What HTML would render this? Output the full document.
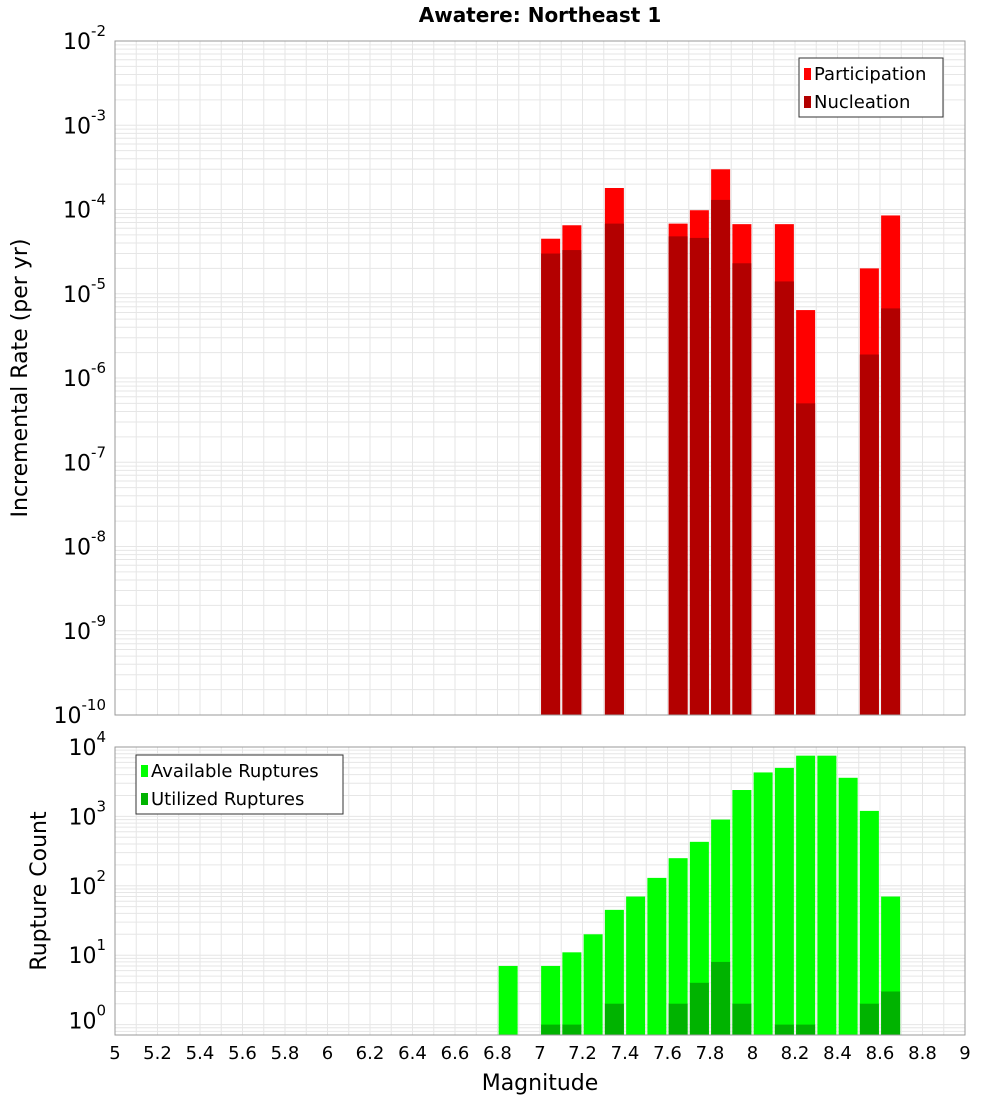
<!DOCTYPE html>
<html><head><meta charset="utf-8"><style>
body{margin:0;background:#fff;font-family:"Liberation Sans",sans-serif}
svg{display:block}
</style></head><body>
<svg id="c" width="1000" height="1100" xmlns="http://www.w3.org/2000/svg" font-family="DejaVu Sans, Liberation Sans, sans-serif">
<text x="540" y="22" text-anchor="middle" font-size="20" font-weight="bold">Awatere: Northeast 1</text>
<g id="gtop"></g><g id="gbot"></g>
<text transform="translate(27,378) rotate(-90)" text-anchor="middle" font-size="22">Incremental Rate (per yr)</text>
<text transform="translate(46,891) rotate(-90)" text-anchor="middle" font-size="22">Rupture Count</text>
<text x="540" y="1090" text-anchor="middle" font-size="22">Magnitude</text>
</svg>
<script>
const mags=[6.85,7.05,7.15,7.25,7.35,7.45,7.55,7.65,7.75,7.85,7.95,8.05,8.15,8.25,8.35,8.45,8.55,8.65];
const partMags=[7.05,7.15,7.35,7.65,7.75,7.85,7.95,8.15,8.25,8.55,8.65];
const participation=[4.5e-5,6.5e-5,1.8e-4,6.8e-5,9.8e-5,3e-4,6.7e-5,6.7e-5,6.4e-6,2e-5,8.5e-5];
const nucleation=[3e-5,3.3e-5,6.8e-5,4.8e-5,4.6e-5,1.3e-4,2.3e-5,1.4e-5,5e-7,1.9e-6,6.7e-6];
const available=[7,7,11,20,45,70,130,250,430,900,2400,4300,5000,7500,7500,3600,1200,70];
const utilMags=[7.05,7.15,7.35,7.65,7.75,7.85,7.95,8.15,8.25,8.55,8.65];
const utilized=[1,1,2,2,4,8,2,1,1,2,3];
const xTicks=[5,5.2,5.4,5.6,5.8,6,6.2,6.4,6.6,6.8,7,7.2,7.4,7.6,7.8,8,8.2,8.4,8.6,8.8,9];
const topExp=[-10,-9,-8,-7,-6,-5,-4,-3,-2];
const botExp=[0,1,2,3,4];

const NS="http://www.w3.org/2000/svg";
const X0=115,X1=965;
const x=m=>X0+(m-5)/4*(X1-X0);
const T0=41,T1=715;
const yT=v=>T1-(Math.log10(v)+10)/8*(T1-T0);
const B0=747,B1=1035,BMIN=-0.15;
const yB=v=>B1-(Math.log10(v)-BMIN)/(4-BMIN)*(B1-B0);
function el(p,t,a,txt){const e=document.createElementNS(NS,t);for(const k in a)e.setAttribute(k,a[k]);if(txt!==undefined)e.textContent=txt;p.appendChild(e);return e;}
const gTop=document.getElementById('gtop'),gBot=document.getElementById('gbot');
function frame(g,y0,y1,yf,lo,hi){
  el(g,'rect',{x:X0,y:y0,width:X1-X0,height:y1-y0,fill:'#fff'});
  for(let m=5;m<=9.001;m+=0.1){const l=el(g,'line',{x1:x(m),x2:x(m),y1:y0,y2:y1,stroke:'#e6e6e6','stroke-width':1});}
  for(let e=lo;e<hi;e++)for(let k=1;k<10;k++){const yy=yf(k*Math.pow(10,e));if(yy<y0||yy>y1)continue;const l=el(g,'line',{x1:X0,x2:X1,y1:yy,y2:yy,stroke:'#e6e6e6','stroke-width':1});}
}
frame(gTop,T0,T1,yT,-10,-2);
frame(gBot,B0,B1,yB,-1,4);
const bw=19;
function bar(g,m,v,yf,y1,fill,name){const yy=yf(v);const r=el(g,'rect',{x:x(m)-bw/2,y:yy,width:bw,height:y1-yy,fill:fill});}
partMags.forEach((m,i)=>bar(gTop,m,participation[i],yT,T1,'#ff0000','participation-bar'));
partMags.forEach((m,i)=>bar(gTop,m,nucleation[i],yT,T1,'#b30000','nucleation-bar'));
mags.forEach((m,i)=>bar(gBot,m,available[i],yB,B1,'#00ff00','available-bar'));
utilMags.forEach((m,i)=>bar(gBot,m,utilized[i],yB,B1,'#00b300','utilized-bar'));
el(gTop,'rect',{x:X0,y:T0,width:X1-X0,height:T1-T0,fill:'none',stroke:'#999'});
el(gBot,'rect',{x:X0,y:B0,width:X1-X0,height:B1-B0,fill:'none',stroke:'#999'});
function ylab(g,e,yy){const t=el(g,'text',{x:106,y:yy+8,'text-anchor':'end','font-size':22});
  t.appendChild(document.createTextNode('10'));el(t,'tspan',{dy:-13,'font-size':15},String(e));}
topExp.forEach(e=>ylab(gTop,e,yT(Math.pow(10,e))));
botExp.forEach(e=>ylab(gBot,e,yB(Math.pow(10,e))-(e==0?4:0)));
xTicks.forEach(m=>{const t=el(gBot,'text',{x:x(m),y:1059,'text-anchor':'middle','font-size':18},String(m));});
function legend(g,x0,y0,w,items,name){const lg=el(g,'g',{});
  el(lg,'rect',{x:x0,y:y0,width:w,height:59,fill:'#fff',stroke:'#333'});
  items.forEach((it,i)=>{el(lg,'rect',{x:x0+5,y:y0+10+i*28,width:7,height:12,fill:it[1]});el(lg,'text',{x:x0+15,y:y0+22+i*28,'font-size':18},it[0]);});}
legend(gTop,799,58,144,[['Participation','#ff0000'],['Nucleation','#b30000']],'top-legend');
legend(gBot,136,755,207,[['Available Ruptures','#00ff00'],['Utilized Ruptures','#00b300']],'bottom-legend');
</script>
</body></html>
